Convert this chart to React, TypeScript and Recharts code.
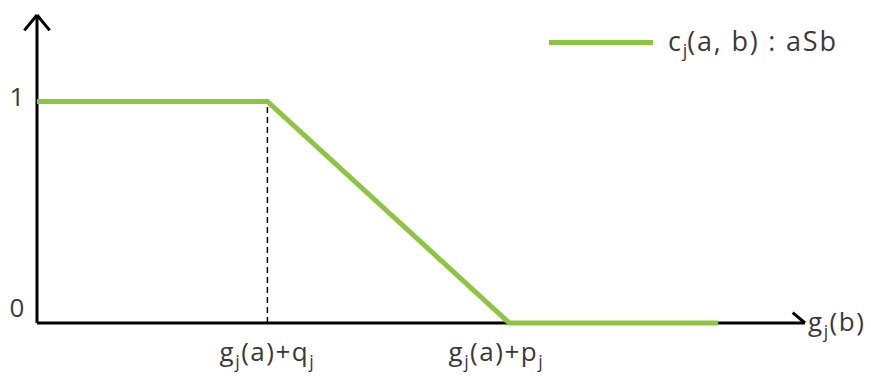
import { LineChart, Line, XAxis, YAxis, ReferenceLine } from "recharts";

// x positions along g_j(b), y = preference degree c_j(a, b)
const xValues = [0, 30, 61.5, 88.7];
const yValues = [1, 1, 0, 0];
const xTicks = [30, 61.5];
const yTicks = [0, 1];
const xTickParts: Record<string, string[]> = {
  "30": ["g", "j", "(a)+q", "j"],
  "61.5": ["g", "j", "(a)+p", "j"],
};
const xTickShift: Record<string, number> = { "30": 0, "61.5": -13 };
const seriesName = "c_j(a, b) : aSb";
const xMax = 100;
const yMax = 1.39;

const data = xValues.map((x, i) => ({ x, c: yValues[i] }));

const GREEN = "#8cc63f";
const TEXT = "#3a3a3a";
const FONT = "'Open Sans', 'DejaVu Sans', sans-serif";
const FS = 26;
const LS = 1.5;

// alternate normal / subscript pieces
const SubText = ({ parts, size }: { parts: string[]; size: number }) => (
  <>
    {parts.map((p, i) =>
      i % 2 === 1 ? (
        <tspan key={i} fontSize={size * 0.68} dy={size * 0.26}>
          {p}
        </tspan>
      ) : (
        <tspan key={i} dy={i === 0 ? 0 : -size * 0.26}>
          {p}
        </tspan>
      )
    )}
  </>
);

const XTick = ({ x, y, payload }: any) => {
  const key = String(payload.value);
  const parts = xTickParts[key];
  if (!parts) return null;
  return (
    <text
      x={x + (xTickShift[key] || 0)}
      y={y + 30}
      textAnchor="middle"
      fontSize={FS}
      letterSpacing={LS}
      fill={TEXT}
      fontFamily={FONT}
    >
      <SubText parts={parts} size={FS} />
    </text>
  );
};

const YTick = ({ x, y, payload }: any) => (
  <text
    x={x - 12}
    y={payload.value === 0 ? y - 13 : y - 2}
    textAnchor="middle"
    dominantBaseline="middle"
    fontSize={FS}
    fill={TEXT}
    fontFamily={FONT}
  >
    {payload.value}
  </text>
);

const AxisName = ({ viewBox }: any) => (
  <text
    x={viewBox.x + viewBox.width + 3}
    y={viewBox.y + 8}
    fontSize={FS}
    letterSpacing={LS}
    fill={TEXT}
    fontFamily={FONT}
  >
    <SubText parts={["g", "j", "(b)"]} size={FS} />
  </text>
);

const LegendBox = () => (
  <div
    style={{
      position: "absolute",
      left: 549,
      top: 22,
      width: 322,
      display: "flex",
      alignItems: "center",
      fontFamily: FONT,
      fontSize: 27,
      letterSpacing: 1.8,
      color: TEXT,
      whiteSpace: "nowrap",
    }}
  >
    <div style={{ width: 104, height: 5, flexShrink: 0, background: GREEN, marginRight: 15 }} />
    <span>
      c<sub style={{ fontSize: 18, verticalAlign: "-6px", letterSpacing: 0 }}>j</sub>(a, b) : aSb
    </span>
  </div>
);

export default function App() {
  const ax = xMax * 0.016;
  const ay = yMax * 0.034;
  const bx = xMax * 0.0165;
  const by = yMax * 0.05;
  return (
    <div style={{ position: "absolute", left: 0, top: 0, width: 871, height: 380, background: "#fff" }}>
      <LineChart width={871} height={380} data={data} margin={{ top: 15, right: 66, bottom: 0, left: 0 }}>
        <XAxis
          type="number"
          dataKey="x"
          domain={[0, xMax]}
          ticks={xTicks}
          tick={<XTick />}
          tickLine={false}
          axisLine={false}
          height={57}
        />
        <YAxis
          type="number"
          domain={[0, yMax]}
          ticks={yTicks}
          tick={<YTick />}
          tickLine={false}
          axisLine={false}
          width={37}
        />
        <ReferenceLine
          segment={[{ x: 30, y: 0 }, { x: 30, y: 1 }]}
          stroke="#000"
          strokeWidth={1.5}
          strokeDasharray="6 4"
        />
        {/* axes with open arrow heads */}
        <ReferenceLine
          segment={[{ x: 0, y: 0 }, { x: xMax, y: 0 }]}
          stroke="#000"
          strokeWidth={3}
          label={<AxisName />}
        />
        <ReferenceLine segment={[{ x: xMax - ax, y: ay }, { x: xMax, y: 0 }]} stroke="#000" strokeWidth={3} />
        <ReferenceLine segment={[{ x: xMax - ax, y: -ay }, { x: xMax, y: 0 }]} stroke="#000" strokeWidth={3} />
        <ReferenceLine segment={[{ x: 0, y: 0 }, { x: 0, y: yMax }]} stroke="#000" strokeWidth={3} ifOverflow="visible" />
        <ReferenceLine
          segment={[{ x: -bx, y: yMax - by }, { x: 0, y: yMax }]}
          stroke="#000"
          strokeWidth={3}
          ifOverflow="visible"
        />
        <ReferenceLine
          segment={[{ x: bx, y: yMax - by }, { x: 0, y: yMax }]}
          stroke="#000"
          strokeWidth={3}
          ifOverflow="visible"
        />
        <Line
          dataKey="c"
          name={seriesName}
          type="linear"
          stroke={GREEN}
          strokeWidth={5}
          dot={false}
          isAnimationActive={false}
        />
      </LineChart>
      <LegendBox />
    </div>
  );
}
